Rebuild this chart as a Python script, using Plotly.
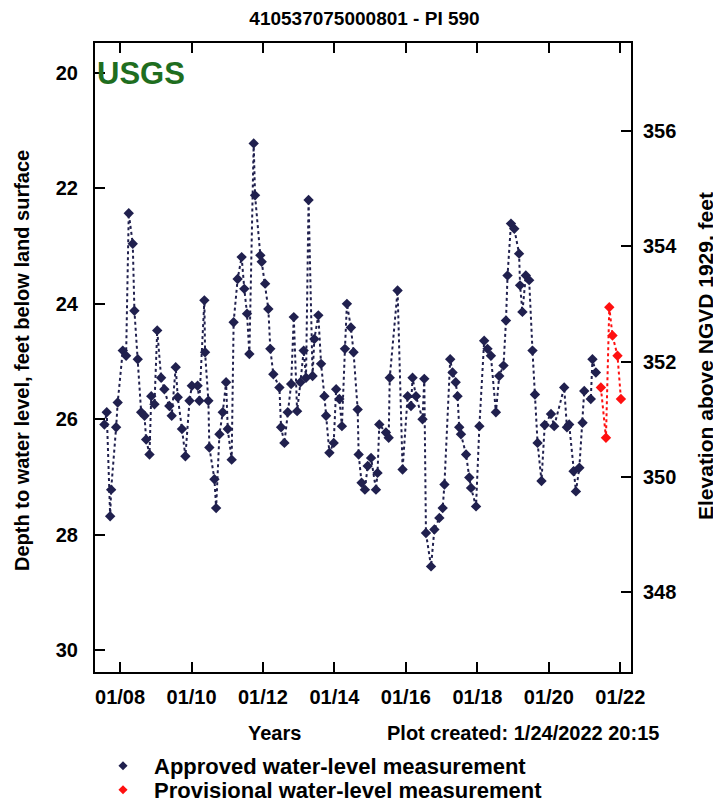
import plotly.graph_objects as go

# ---- data ----
approved_dates = [
    "2007-07-25", "2007-08-18", "2007-09-22", "2007-10-02", "2007-11-22", "2007-12-08",
    "2008-01-29", "2008-03-03", "2008-03-30", "2008-05-10", "2008-05-27", "2008-06-30",
    "2008-08-04", "2008-09-07", "2008-09-24", "2008-10-28", "2008-11-15", "2008-12-18",
    "2009-01-15", "2009-02-24", "2009-03-29", "2009-05-19", "2009-06-12", "2009-07-23",
    "2009-08-13", "2009-09-25", "2009-10-30", "2009-12-11",
    "2010-01-04", "2010-03-04", "2010-03-22", "2010-05-12", "2010-05-19", "2010-06-22",
    "2010-07-02", "2010-08-23", "2010-09-09", "2010-10-13", "2010-11-16", "2010-12-20",
    "2011-01-06", "2011-02-15", "2011-03-07", "2011-04-17", "2011-05-28", "2011-06-24",
    "2011-07-22", "2011-08-15", "2011-09-28", "2011-10-12", "2011-12-05", "2011-12-19",
    "2012-01-23", "2012-02-25", "2012-03-16", "2012-04-16", "2012-06-17", "2012-07-04",
    "2012-08-07", "2012-09-10", "2012-10-15", "2012-11-11", "2012-12-15",
    "2013-01-18", "2013-02-20", "2013-03-16", "2013-04-11", "2013-05-22", "2013-06-09",
    "2013-07-20", "2013-08-17", "2013-09-20", "2013-10-07", "2013-11-10", "2013-12-24",
    "2014-01-18", "2014-02-20", "2014-03-18", "2014-04-18", "2014-05-08", "2014-06-18",
    "2014-07-15", "2014-08-26", "2014-09-05", "2014-10-05", "2014-11-08", "2014-12-06",
    "2015-01-10", "2015-03-01", "2015-03-17", "2015-04-04", "2015-06-11", "2015-07-09",
    "2015-07-20", "2015-10-08", "2015-11-28",
    "2016-01-19", "2016-02-22", "2016-03-09", "2016-04-13", "2016-06-19", "2016-07-07",
    "2016-07-24", "2016-09-14", "2016-10-18", "2016-12-08",
    "2017-01-11", "2017-01-29", "2017-03-29", "2017-04-22", "2017-05-24", "2017-06-12",
    "2017-06-29", "2017-07-17", "2017-09-07", "2017-10-10", "2017-10-28", "2017-12-18",
    "2018-01-21", "2018-03-11", "2018-04-14", "2018-05-19", "2018-07-09", "2018-08-12",
    "2018-09-25", "2018-10-20", "2018-11-05", "2018-12-10",
    "2019-01-13", "2019-03-03", "2019-03-13", "2019-04-06", "2019-05-11", "2019-06-14",
    "2019-07-18", "2019-08-12", "2019-09-08", "2019-10-18", "2019-11-20",
    "2020-01-23", "2020-02-25", "2020-06-06", "2020-07-04", "2020-07-27", "2020-09-10",
    "2020-10-04", "2020-11-08", "2020-12-11", "2020-12-28",
    "2021-03-05", "2021-03-22", "2021-04-26",
]
approved_depth = [
    26.09, 25.88, 27.68, 27.22, 26.14, 25.71,
    24.81, 24.90, 22.43, 22.96, 24.12, 24.96,
    25.88, 25.94, 26.35, 26.61, 25.60, 25.74,
    24.46, 25.28, 25.48, 25.77, 25.94, 25.10,
    25.62, 26.17, 26.64, 25.68,
    25.42, 25.42, 25.68, 23.94, 24.84, 25.68,
    26.49, 27.04, 27.54, 26.26, 25.88, 25.36,
    26.17, 26.70, 24.32, 23.57, 23.19, 23.74,
    24.17, 24.87, 21.22, 22.12, 23.16, 23.27,
    23.65, 24.09, 24.78, 25.22, 25.45, 26.14,
    26.41, 25.88, 25.39, 24.23, 25.86,
    25.36, 24.81, 25.28, 22.20, 25.25, 24.61,
    24.20, 25.04, 25.60, 25.94, 26.58, 26.41,
    25.48, 25.65, 26.12, 24.78, 24.00, 24.41,
    24.84, 25.83, 26.61, 27.10, 27.22, 26.81,
    26.67, 27.22, 26.93, 26.09, 26.23, 26.32,
    25.28, 23.77, 26.87,
    25.60, 25.77, 25.28, 25.60, 26.00, 25.30,
    27.97, 28.55, 27.91, 27.71,
    27.54, 27.13, 24.96, 25.19, 25.36, 25.60,
    26.14, 26.26, 26.61, 27.01, 27.19, 27.51,
    26.12, 24.64, 24.78, 24.90, 25.88, 25.25,
    25.07, 24.29, 23.51, 22.61,
    22.70, 23.13, 23.68, 24.14, 23.51, 23.59,
    24.81, 25.57, 26.41, 27.07, 26.10,
    25.91, 26.12, 25.45, 26.14, 26.09, 26.90,
    27.25, 26.84, 26.06, 25.51,
    25.65, 24.96, 25.19,
]
provisional_dates = ["2021-06-16", "2021-08-07", "2021-09-10", "2021-10-13", "2021-12-03", "2022-01-07"]
provisional_depth = [25.45, 26.32, 24.06, 24.55, 24.90, 25.65]

depth_range = [30.38, 19.48]        # feet below land surface (reversed)
land_surface_elev = 377.0           # elevation = land_surface_elev - depth
x_range = ["2007-04-20", "2022-04-20"]
title_text = "410537075000801 - PI 590"
created_text = "Plot created: 1/24/2022 20:15"
left_title = "Depth to water level, feet below land surface"
right_title = "Elevation above NGVD 1929, feet"

FONT = "Liberation Sans, Arial, sans-serif"
NAVY = "#20204e"
RED = "#ff1010"

# the page body adds an 8 px margin, so the figure is 8 px smaller than the window
OFF = 8
W, H = 721 - OFF, 806 - OFF
ML, MR, MT, MB = 95 - OFF, 721 - 631, 43 - OFF, 806 - 672
PW, PH = W - ML - MR, H - MT - MB


def py(ypage):
    return (H - MB - (ypage - OFF)) / PH


def px(xpage):
    return ((xpage - OFF) - ML) / PW


def bold(size, color="black"):
    return dict(family=FONT, size=size, color=color, weight="bold")


fig = go.Figure()
fig.add_trace(go.Scatter(
    x=approved_dates, y=approved_depth, mode="lines+markers",
    line=dict(color=NAVY, width=2, dash="dot"),
    marker=dict(symbol="diamond", size=8, color=NAVY),
    showlegend=False,
))
fig.add_trace(go.Scatter(
    x=provisional_dates, y=provisional_depth, mode="lines+markers",
    line=dict(color=RED, width=2, dash="dot"),
    marker=dict(symbol="diamond", size=8, color=RED),
    showlegend=False,
))
# legend entries (markers only)
fig.add_trace(go.Scatter(x=[None], y=[None], mode="markers", name="Approved water-level measurement",
                         marker=dict(symbol="diamond", size=7, color=NAVY), legend="legend"))
fig.add_trace(go.Scatter(x=[None], y=[None], mode="markers", name="Provisional water-level measurement",
                         marker=dict(symbol="diamond", size=7, color=RED), legend="legend2"))
# attach the elevation axis
fig.add_trace(go.Scatter(x=[None], y=[None], yaxis="y2", showlegend=False, hoverinfo="skip"))

axis_common = dict(
    ticks="inside", ticklen=10, tickwidth=2, tickcolor="black",
    showline=True, linecolor="black", linewidth=2,
    showgrid=False, zeroline=False, tickfont=bold(20), automargin=False,
)

legend_common = dict(
    x=px(92), xanchor="left", yanchor="middle",
    font=bold(22), itemwidth=52, bgcolor="rgba(0,0,0,0)",
)

fig.update_layout(
    width=W, height=H,
    margin=dict(l=ML, r=MR, t=MT, b=MB, autoexpand=False),
    paper_bgcolor="white", plot_bgcolor="white",
    title=dict(text=title_text, x=0.5, xanchor="center", y=1 - (18 - OFF) / H, yanchor="middle",
               font=bold(19)),
    xaxis=dict(
        type="date", range=x_range, tick0="2008-01-01", dtick="M24", tickformat="%m/%y",
        mirror="ticks", ticklabelstandoff=6, **axis_common,
    ),
    yaxis=dict(range=depth_range, dtick=2, tick0=20, mirror=False, ticklabelstandoff=11, **axis_common),
    yaxis2=dict(
        overlaying="y", side="right",
        range=[land_surface_elev - depth_range[0], land_surface_elev - depth_range[1]],
        dtick=2, tick0=348, ticklabelstandoff=6, **axis_common,
    ),
    legend=dict(y=py(766), **legend_common),
    legend2=dict(y=py(790), **legend_common),
    annotations=[
        dict(text="USGS", xref="paper", yref="paper", x=0, y=py(73), xanchor="left", yanchor="middle",
             showarrow=False, font=bold(31, "#1f6e1f")),
        dict(text=left_title, xref="paper", yref="paper", x=px(22), y=py(361), textangle=-90,
             xanchor="center", yanchor="middle", showarrow=False, font=bold(20)),
        dict(text=right_title, xref="paper", yref="paper", x=px(705), y=py(356), textangle=-90,
             xanchor="center", yanchor="middle", showarrow=False, font=bold(21)),
        dict(text="Years", xref="paper", yref="paper", x=px(274), y=py(733),
             xanchor="center", yanchor="middle", showarrow=False, font=bold(20)),
        dict(text=created_text, xref="paper", yref="paper", x=px(385), y=py(733),
             xanchor="left", yanchor="middle", showarrow=False, font=bold(20)),
    ],
)

fig.write_html("out.html")
